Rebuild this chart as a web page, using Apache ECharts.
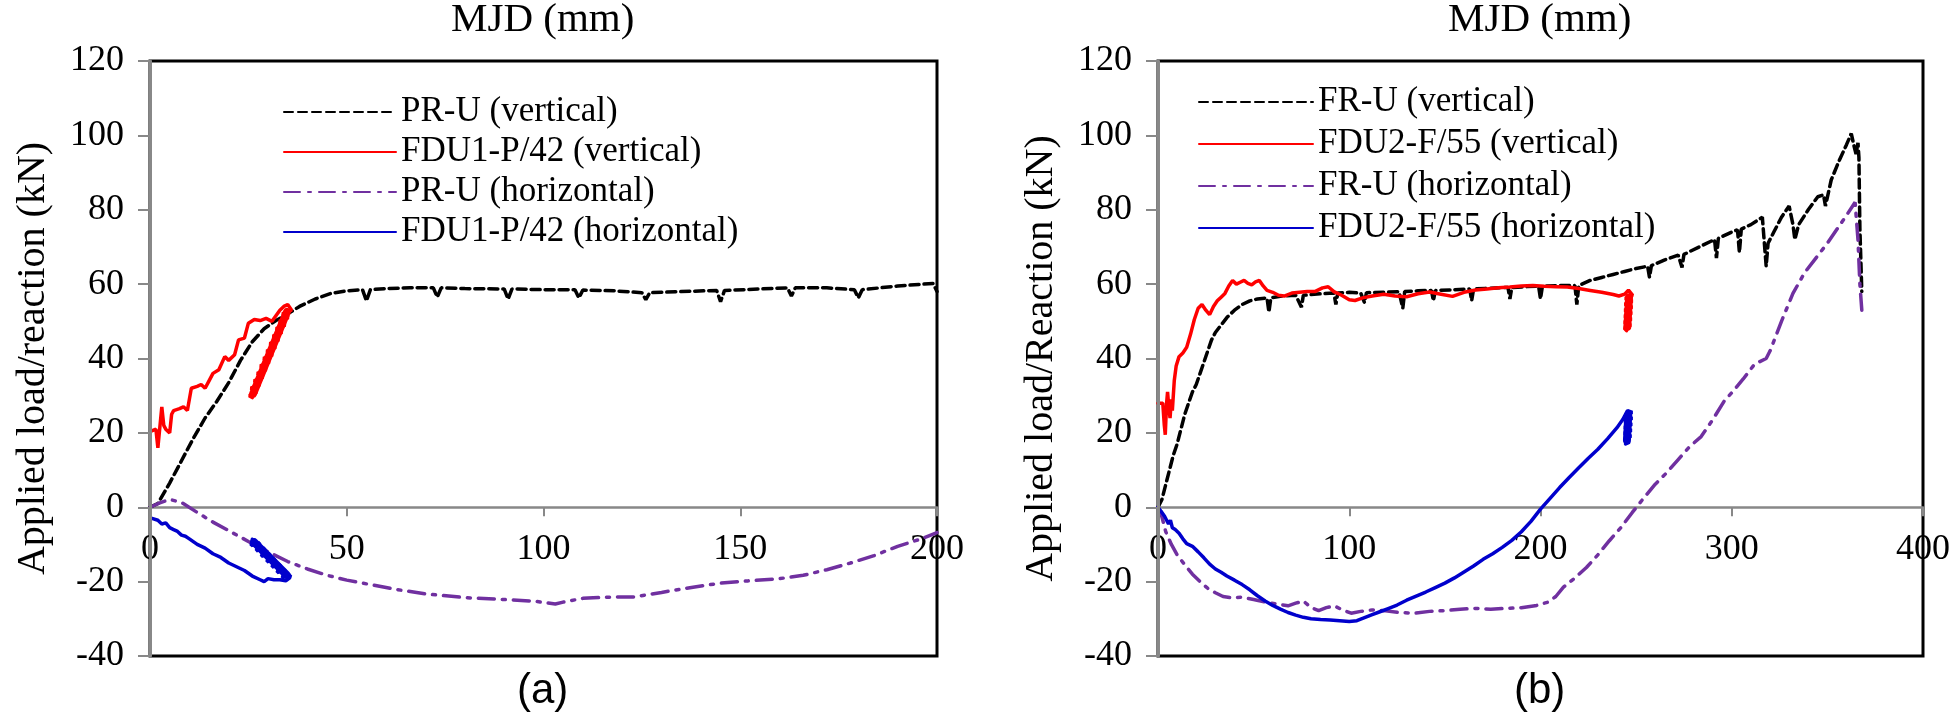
<!DOCTYPE html>
<html>
<head>
<meta charset="utf-8">
<script src="https://cdn.jsdelivr.net/npm/echarts@6/dist/echarts.min.js"></script>
<style>
html,body{margin:0;padding:0;background:#fff;}
#chart{width:1957px;height:726px;}
</style>
</head>
<body>
<div id="chart"></div>
<script>
// ---------- Axis ticks ----------
const yTicks = [-40, -20, 0, 20, 40, 60, 80, 100, 120];
const xTicksA = [0, 50, 100, 150, 200];
const xTicksB = [0, 100, 200, 300, 400];

// ---------- Names ----------
const namesA = ['PR-U (vertical)', 'FDU1-P/42 (vertical)', 'PR-U (horizontal)', 'FDU1-P/42 (horizontal)'];
const namesB = ['FR-U (vertical)', 'FDU2-F/55 (vertical)', 'FR-U (horizontal)', 'FDU2-F/55 (horizontal)'];

// ---------- Panel (a) data: [MJD mm, kN] ----------
const prU_vertical = [[0,0],[2,1],[5,6.5],[8,12.5],[11,18.5],[14,24],[17,28.5],[20,33.5],[23,39.5],[26,44.5],[29,48],[32,50.2],[35,52],[38,54],[42,56],[46,57.5],[50,58.2],[54,58.5],[55,55.5],[56,58.5],[60,58.8],[66,59],[72,59],[73,56.5],[74,59],[80,58.8],[90,58.7],[91,56],[92,58.7],[100,58.5],[108,58.5],[109,56.3],[110,58.4],[118,58.2],[125,57.7],[126,55.8],[127,57.7],[135,58],[144,58.3],[145,55.3],[146,58.3],[155,58.7],[162,59],[163,56.8],[164,59],[172,59],[179,58.5],[180,56.3],[181,58.5],[190,59.5],[199,60.2],[200,58]];
const fdu1_vertical = [[0.3,20.5],[1.5,21],[2,16],[2.5,15.5],[3,27],[3.5,22],[4,21],[5,20],[5.5,25],[6,26],[7.5,26.5],[8.5,27],[9.5,26],[10.5,32],[12,32.5],[13,33],[14,32],[15,34],[16,36],[17.5,37],[19,40.5],[20,39.5],[21.5,41],[22.5,45],[24,45.5],[25,49.5],[26.5,50.5],[28,50.2],[29.5,50.8],[31,50],[32,51.5],[33,53],[34,54],[35,54.5],
  [36,53],[33.6,52],[35.2,51],[32.8,50],[34.4,49],[32,48],[33.6,47],[31.2,46],[32.8,45],[30.4,44],[32,43],[29.6,42],[31.2,41],[28.8,40],[30.4,39],[28,38],[29.6,37],[27.2,36],[28.8,35],[26.4,34],[28,33],[25.6,32],[27.2,31],[25.2,30],[26,29.5]];
const fdu1_vertical_cycles = [[34.8,52.5],[26.2,30.5]];   // dense unloading/reloading band
const prU_horizontal = [[0,0],[2.5,1.2],[5,2.1],[8,1.3],[12,-1.4],[16,-4],[20,-6.3],[25,-9.2],[30,-12],[35,-14.6],[40,-16.6],[45,-18.3],[50,-19.6],[56,-20.8],[62,-22],[70,-23.3],[80,-24.3],[90,-24.8],[98,-25.3],[103,-26],[105,-25.5],[110,-24.5],[116,-24.2],[123,-24.1],[130,-22.9],[138,-21.5],[145,-20.4],[152,-19.8],[160,-19.2],[166,-18.3],[172,-16.8],[178,-15],[184,-13],[190,-10.5],[196,-8.5],[200,-6.8]];
const fdu1_horizontal = [[0.5,-3],[2,-3.5],[3,-4.5],[4,-4.2],[5,-5.5],[6,-6],[7,-6.5],[8,-7.5],[9,-7.8],[10,-8.5],[12,-10],[14,-11],[16,-12.5],[18,-13.5],[20,-15],[22,-16],[24,-17],[26,-18.5],[28,-19.5],[29,-20],[30,-19.2],[31.5,-19.5],[33,-19.5],[34.5,-19.8],[35.5,-19],
  [35.7,-18.2],[33.6,-19],[34.4,-16.8],[32.3,-17.6],[33.1,-15.3],[31,-16.1],[31.8,-13.9],[29.7,-14.7],[30.5,-12.4],[28.3,-13.2],[29.2,-11],[27,-11.7],[27.9,-9.5],[25.7,-10.3],[26,-8.6]];
const fdu1_horizontal_cycles = [[34.7,-18.2],[26.5,-9.4]];

// ---------- Panel (b) data: [MJD mm, kN] ----------
const frU_vertical = [[0,0],[2,2],[4,6],[6,10],[8,14],[10,17],[12,21],[14,25],[16,28],[18,31],[20,33],[22,36],[24,39],[26,42],[28,45],[30,47],[33,49],[36,51],[40,53],[44,54.5],[48,55.5],[52,56],[57,56.3],[58,52.5],[59,56.3],[65,56.8],[72,57],[75,53.8],[76,57],[85,57.4],[92,57.6],[93,54.5],[94,57.6],[100,57.8],[106,57.6],[108,55],[109,57.7],[118,57.8],[126,58],[128,53.5],[129,58],[136,58.2],[143,58.3],[144,55.5],[145,58.3],[155,58.5],[163,58.7],[164,55.5],[165,58.7],[173,58.9],[183,59.1],[184,56],[185,59.1],[192,59.3],[199,59.5],[200,56],[201,59.5],[210,59.6],[218,59.6],[219,54.5],[220,59.6],[226,61],[232,61.8],[238,62.6],[244,63.4],[250,64.2],[256,64.8],[257,61.8],[258,65],[265,66.5],[272,67.8],[274,64.5],[275,68],[283,70],[291,72],[292,67],[293,72.3],[300,74],[303,74.6],[304,68.5],[305,74.8],[310,76],[316,78],[318,64.8],[319,71],[322,74],[326,78],[330,81],[332,76],[333,72],[335,76],[340,80],[345,83.5],[348,84],[349,81],[352,88],[356,93],[360,97.5],[362.5,100.5],[364,97],[365,95],[366,98],[366.5,94],[367,75],[368,58]];
const fdu2_vertical = [[0,28],[2.5,28],[3.3,22],[3.8,19.5],[4.5,28],[5,31],[5.8,26],[6.3,24],[7,29],[7.5,26],[8.5,34],[9.5,38],[11,40.5],[13,41.5],[15,43],[17,46.5],[19,50.5],[21,53.5],[23,54.5],[25,53],[27,51.8],[29,54],[31,55.5],[33,56.5],[35,57.5],[37,59.5],[39,61],[41,60],[43,60.5],[45,61],[47,60.2],[49,59.8],[51,60.6],[53,61],[55,59.5],[57,58.3],[60,57.8],[63,57],[66,56.8],[70,57.6],[74,57.8],[78,58],[82,58],[86,59],[89,59.3],[92,58],[96,57],[100,55.8],[103,55.6],[107,56.3],[112,56.8],[118,57.3],[124,56.8],[130,56.6],[136,57.4],[142,57.9],[148,57.3],[154,56.7],[160,57.8],[166,58.4],[172,58.7],[178,59],[184,59.2],[190,59.5],[196,59.6],[202,59.4],[208,59.3],[214,59.2],[220,58.8],[226,58.3],[232,57.8],[238,57.2],[241,56.8],[244,57.3],[246,58.4],
  [248.2,57],[244.2,56.2],[248.1,55.4],[244,54.6],[248,53.8],[243.9,53],[247.8,52.2],[243.8,51.4],[247.6,50.6],[243.7,49.8],[247.3,49],[243.8,48.2],[245,47.5]];
const fdu2_vertical_cycles = [[246.3,56.5],[245.4,48.5]];
const frU_horizontal = [[0,0],[2,-2.5],[4,-6.5],[7,-10],[10,-12.8],[14,-15.5],[18,-18],[22,-20],[26,-21.8],[30,-23],[34,-24],[38,-24.3],[44,-24.2],[50,-24.8],[56,-25.5],[62,-26],[68,-26.5],[72,-25.8],[76,-25.2],[80,-27],[84,-27.8],[88,-27],[92,-26.5],[96,-27.5],[101,-28.5],[106,-28],[112,-27.6],[118,-27.8],[126,-28.3],[134,-28.5],[142,-28],[150,-27.8],[158,-27.4],[166,-27.2],[174,-27.4],[182,-27.2],[190,-27],[198,-26.4],[204,-25.5],[208,-24],[212,-21.5],[218,-19],[224,-16.2],[230,-12.8],[236,-9],[242,-5.5],[248,-1.4],[254,2.5],[260,6.2],[266,9.3],[272,12.8],[278,16.3],[284,19],[290,23.5],[296,28.5],[300,30.8],[306,34.5],[312,38.5],[318,40],[320,42],[326,50],[332,57.5],[338,63],[344,67],[350,71],[356,75.5],[360,78.5],[364.5,82],[366,72],[367,60],[368,53]];
const fdu2_horizontal = [[0,0],[1.5,-1],[2.5,-0.5],[3.5,-2.5],[4.5,-2],[5.5,-4.5],[6.5,-3.5],[7.5,-5.5],[9,-6],[11,-7],[13,-8.5],[15,-9.8],[18,-10.5],[21,-12],[24,-13.6],[27,-15.3],[30,-16.6],[33,-17.5],[36,-18.5],[40,-19.6],[44,-20.8],[48,-22.2],[52,-23.8],[56,-25.2],[60,-26.4],[64,-27.4],[68,-28.3],[72,-29],[76,-29.6],[80,-30],[85,-30.2],[90,-30.3],[95,-30.5],[100,-30.7],[104,-30.5],[108,-29.7],[112,-28.9],[116,-28.1],[120,-27.3],[125,-26.3],[130,-25],[135,-23.9],[140,-22.8],[145,-21.6],[150,-20.4],[155,-19],[160,-17.4],[165,-15.8],[170,-14],[175,-12.5],[180,-10.8],[185,-8.9],[190,-6.6],[195,-3.8],[200,-0.5],[205,2.4],[210,5.3],[215,8],[220,10.6],[225,13.2],[230,15.6],[235,18.4],[240,21.4],[243,23.6],[245.5,26],
  [248,25.5],[244,24.7],[248,23.9],[243.9,23.1],[247.8,22.3],[243.8,21.5],[247.6,20.7],[243.7,19.9],[247.4,19.1],[243.8,18.3],[246.5,17.5],[244.5,17]];
const fdu2_horizontal_cycles = [[245.9,24.8],[245.2,18]];

// ---------- Styles ----------
const SERIF = '"Liberation Serif"';
const C_BLACK = '#000000', C_RED = '#FF0000', C_PURPLE = '#7030A0', C_BLUE = '#0000CC';
const DASH = [9, 5], DASHDOT = [16, 8, 3, 8];
const ZERO_OFFSET = -595 * 40 / 160; // lift x-axis from bottom (-40) to the zero line

function xAxisFor(idx, ticks) {
  return {
    type: 'value', gridIndex: idx, position: 'bottom', offset: ZERO_OFFSET,
    min: ticks[0], max: ticks[ticks.length - 1], interval: ticks[1] - ticks[0],
    axisLine: { show: true, onZero: false, lineStyle: { color: '#888', width: 2.5 } },
    axisTick: { show: true, inside: false, length: 9, lineStyle: { color: '#888', width: 2 } },
    axisLabel: { color: '#000', fontFamily: SERIF, fontSize: 36, margin: 24 },
    splitLine: { show: false }
  };
}
function yAxisFor(idx, name) {
  return {
    type: 'value', gridIndex: idx,
    min: yTicks[0], max: yTicks[yTicks.length - 1], interval: yTicks[1] - yTicks[0],
    name: name, nameLocation: 'middle', nameGap: 97, nameRotate: 90,
    nameTextStyle: { color: '#000', fontFamily: SERIF, fontSize: 40 },
    axisLine: { show: true, onZero: false, lineStyle: { color: '#888', width: 3 } },
    axisTick: { show: true, inside: false, length: 12, lineStyle: { color: '#888', width: 2 } },
    axisLabel: { color: '#000', fontFamily: SERIF, fontSize: 36, margin: 26 },
    splitLine: { show: false },
    z: 5
  };
}
function lineSeries(name, data, idx, color, type, width) {
  return {
    type: 'line', name: name, data: data,
    xAxisIndex: idx, yAxisIndex: idx,
    showSymbol: false, symbol: 'none', smooth: false,
    lineStyle: { color: color, width: width || 3.5, type: type, cap: 'round' },
    itemStyle: { color: color },
    emphasis: { disabled: true },
    z: 3
  };
}

const legendBase = {
  orient: 'vertical', itemHeight: 14, itemGap: 0, selectedMode: false,
  itemStyle: { opacity: 0 }
};

const chart = echarts.init(document.getElementById('chart'), null, { renderer: 'canvas' });
chart.setOption({
  animation: false,
  backgroundColor: '#fff',
  grid: [
    { left: 150, top: 61, width: 787, height: 595, show: true, borderColor: '#000', borderWidth: 3, backgroundColor: 'transparent' },
    { left: 1158, top: 61, width: 765, height: 595, show: true, borderColor: '#000', borderWidth: 3, backgroundColor: 'transparent' }
  ],
  xAxis: [xAxisFor(0, xTicksA), xAxisFor(1, xTicksB)],
  yAxis: [yAxisFor(0, 'Applied load/reaction (kN)'), yAxisFor(1, 'Applied load/Reaction (kN)')],
  legend: [
    Object.assign({}, legendBase, { left: 278, top: 87, itemWidth: 112, data: namesA,
      textStyle: { color: '#000', fontFamily: SERIF, fontSize: 35, lineHeight: 40 } }),
    Object.assign({}, legendBase, { left: 1193, top: 76, itemWidth: 114, data: namesB,
      textStyle: { color: '#000', fontFamily: SERIF, fontSize: 35, lineHeight: 42 } })
  ],
  graphic: [
    { type: 'text', left: 543 - 92, top: 0, style: { text: 'MJD (mm)', fill: '#000', font: '41px "Liberation Serif"' } },
    { type: 'text', left: 1540 - 92, top: 0, style: { text: 'MJD (mm)', fill: '#000', font: '41px "Liberation Serif"' } },
    { type: 'text', left: 543 - 26, top: 670, style: { text: '(a)', fill: '#000', font: '42px "Liberation Sans"' } },
    { type: 'text', left: 1540 - 26, top: 670, style: { text: '(b)', fill: '#000', font: '42px "Liberation Sans"' } }
  ],
  series: [
    lineSeries(namesA[0], prU_vertical, 0, C_BLACK, DASH),
    lineSeries(namesA[1], fdu1_vertical, 0, C_RED, 'solid'),
    lineSeries(namesA[2], prU_horizontal, 0, C_PURPLE, DASHDOT),
    lineSeries(namesA[3], fdu1_horizontal, 0, C_BLUE, 'solid'),
    lineSeries(namesB[0], frU_vertical, 1, C_BLACK, DASH),
    lineSeries(namesB[1], fdu2_vertical, 1, C_RED, 'solid'),
    lineSeries(namesB[2], frU_horizontal, 1, C_PURPLE, DASHDOT),
    lineSeries(namesB[3], fdu2_horizontal, 1, C_BLUE, 'solid'),
    // dense cyclic bands (same legend entries)
    lineSeries(namesA[1], fdu1_vertical_cycles, 0, C_RED, 'solid', 8),
    lineSeries(namesA[3], fdu1_horizontal_cycles, 0, C_BLUE, 'solid', 8),
    lineSeries(namesB[1], fdu2_vertical_cycles, 1, C_RED, 'solid', 8),
    lineSeries(namesB[3], fdu2_horizontal_cycles, 1, C_BLUE, 'solid', 8)
  ]
});
</script>
</body>
</html>
